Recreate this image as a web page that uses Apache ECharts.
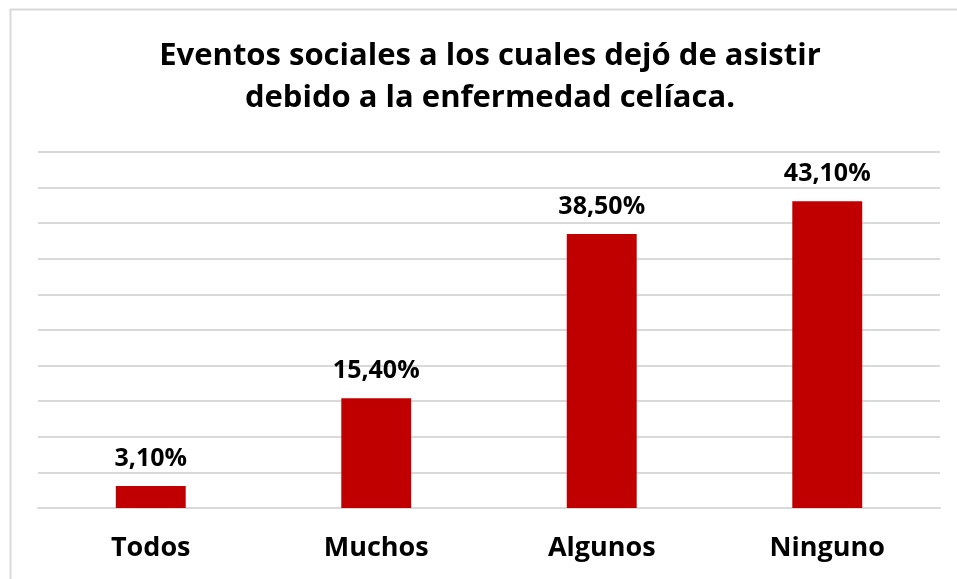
<!DOCTYPE html>
<html>
<head>
<meta charset="utf-8">
<script src="https://cdn.jsdelivr.net/npm/echarts@6/dist/echarts.min.js"></script>
<style>html,body{margin:0;padding:0;background:#fff}#c{width:957px;height:579px}</style>
</head>
<body>
<div id="c"></div>
<script>
var categories = ['Todos', 'Muchos', 'Algunos', 'Ninguno'];
var values = [3.1, 15.4, 38.5, 43.1];
var titleText = 'Eventos sociales a los cuales dejó de asistir\ndebido a la enfermedad celíaca.';
var FONT = 'Open Sans';

var chart = echarts.init(document.getElementById('c'));
chart.setOption({
  backgroundColor: '#ffffff',
  animation: false,
  graphic: [{
    type: 'rect', left: 8, top: 7,
    shape: { width: 1000, height: 1000 },
    style: { fill: 'none', stroke: '#d9d9d9', lineWidth: 2 },
    silent: true
  }],
  title: {
    text: titleText,
    left: 485, top: 30, textAlign: 'center',
    textStyle: { fontFamily: FONT, fontWeight: 'bold', fontSize: 31, color: '#000', lineHeight: 42 }
  },
  grid: { left: 38, right: 17, top: 152, bottom: 71, containLabel: false },
  xAxis: {
    type: 'category', data: categories,
    axisLine: { show: true, lineStyle: { color: '#d9d9d9', width: 2 } },
    axisTick: { show: false },
    axisLabel: { fontFamily: FONT, fontWeight: 'bold', fontSize: 27, color: '#000', margin: 27 }
  },
  yAxis: {
    type: 'value', min: 0, max: 50, interval: 5,
    axisLabel: { show: false }, axisLine: { show: false }, axisTick: { show: false },
    splitLine: { lineStyle: { color: '#d9d9d9', width: 2 } }
  },
  series: [{
    type: 'bar', data: values, barWidth: '31%',
    itemStyle: { color: '#c00000' },
    label: {
      show: true, position: 'top', distance: 15,
      fontFamily: FONT, fontWeight: 'bold', fontSize: 25, color: '#000',
      formatter: function (p) { return p.value.toFixed(2).replace('.', ',') + '%'; }
    }
  }]
});
</script>
</body>
</html>
